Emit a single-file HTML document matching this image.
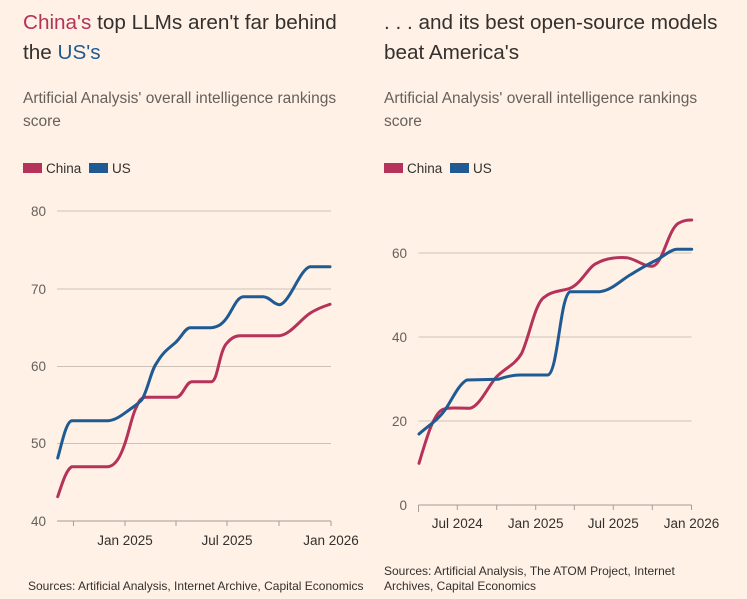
<!DOCTYPE html>
<html><head><meta charset="utf-8"><style>
html,body{margin:0;padding:0;background:#fff1e5;}
svg{display:block;font-family:"Liberation Sans",sans-serif;}
</style></head><body>
<svg width="747" height="599" viewBox="0 0 747 599" xmlns="http://www.w3.org/2000/svg">
<rect width="747" height="599" fill="#fff1e5"/>
<g font-size="20.7" fill="#33302e">
<text x="23" y="29"><tspan fill="#b5325a">China's</tspan> top LLMs aren't far behind</text>
<text x="23" y="59">the <tspan fill="#1f5a93">US's</tspan></text>
<text x="384" y="29">. . . and its best open-source models</text>
<text x="384" y="59">beat America's</text>
</g>
<g font-size="15.5" fill="#66605c">
<text x="23" y="103">Artificial Analysis' overall intelligence rankings</text>
<text x="23" y="126">score</text>
<text x="384" y="103">Artificial Analysis' overall intelligence rankings</text>
<text x="384" y="126">score</text>
</g>
<g font-size="13.5" fill="#33302e">
<rect x="23" y="163" width="19" height="10" fill="#b5325a"/><text x="46" y="173">China</text>
<rect x="89" y="163" width="19" height="10" fill="#1f5a93"/><text x="112" y="173">US</text>
<rect x="384" y="163" width="19" height="10" fill="#b5325a"/><text x="407" y="173">China</text>
<rect x="450" y="163" width="19" height="10" fill="#1f5a93"/><text x="473" y="173">US</text>
</g>
<g stroke="#ccc1b7" stroke-width="1">
<line x1="57" y1="211" x2="331" y2="211"/>
<line x1="57" y1="289" x2="331" y2="289"/>
<line x1="57" y1="366.5" x2="331" y2="366.5"/>
<line x1="57" y1="443.5" x2="331" y2="443.5"/>
</g>
<g stroke="#a59d95" stroke-width="1">
<line x1="57" y1="521" x2="331" y2="521"/>
<line x1="73.5" y1="521" x2="73.5" y2="526"/><line x1="125" y1="521" x2="125" y2="526"/><line x1="176" y1="521" x2="176" y2="526"/><line x1="227" y1="521" x2="227" y2="526"/><line x1="279" y1="521" x2="279" y2="526"/><line x1="331" y1="521" x2="331" y2="526"/>
</g>
<g font-size="13.5" fill="#66605c" text-anchor="end">
<text x="46" y="216">80</text><text x="46" y="294">70</text><text x="46" y="371">60</text><text x="46" y="448">50</text><text x="46" y="526">40</text>
</g>
<g font-size="13.5" fill="#33302e" text-anchor="middle">
<text x="125" y="545">Jan 2025</text><text x="227" y="545">Jul 2025</text><text x="331" y="545">Jan 2026</text>
</g>
<g fill="none" stroke-width="3" stroke-linejoin="round" stroke-linecap="round">
<path stroke="#b5325a" d="M57.7,496.7 C62,484 66,470 71.7,466.7 L108,466.7 C116,466 121,455 125,443.3 C130,428 133,412 136.7,406.7 C139,400 142,397.3 145.7,397.3 L176.7,397.3 C183,396 186,382 191.7,381.7 L211.7,381.7 C218,380 219,352 226.7,343.3 C231,338 235,335.7 240,335.7 L279,335.7 C290,335 300,320 310,313.3 C318,308 325,306 330,304.3"/>
<path stroke="#1f5a93" d="M57.7,458 C62,443 66,422 71.7,420.7 L108,420.7 C116,420 122,415 126.7,411.7 C133,407 138,404 141.7,400 C148,390 151,370 156.7,363 C163,352 168,349 175,343 C181,338 185,328 190,327.7 L211,327.7 C219,327 223,323 226.7,318 C233,309 237,297 243.3,296.7 L263.3,296.7 C270,297 274,305 280,304.7 C290,302 300,269 310,266.7 L330,266.7"/>
</g>
<g stroke="#ccc1b7" stroke-width="1">
<line x1="418.5" y1="253" x2="691.5" y2="253"/>
<line x1="418.5" y1="337" x2="691.5" y2="337"/>
<line x1="418.5" y1="421" x2="691.5" y2="421"/>
</g>
<g stroke="#a59d95" stroke-width="1">
<line x1="418.5" y1="505" x2="691.5" y2="505"/>
<line x1="418.5" y1="505" x2="418.5" y2="512"/><line x1="457.3" y1="505" x2="457.3" y2="510"/><line x1="496.7" y1="505" x2="496.7" y2="510"/><line x1="535.7" y1="505" x2="535.7" y2="510"/><line x1="574.3" y1="505" x2="574.3" y2="510"/><line x1="613.3" y1="505" x2="613.3" y2="510"/><line x1="652.3" y1="505" x2="652.3" y2="510"/><line x1="691.5" y1="505" x2="691.5" y2="510"/>
</g>
<g font-size="13.5" fill="#66605c" text-anchor="end">
<text x="407" y="258">60</text><text x="407" y="342">40</text><text x="407" y="426">20</text><text x="407" y="510">0</text>
</g>
<g font-size="13.5" fill="#33302e" text-anchor="middle">
<text x="457.3" y="528">Jul 2024</text><text x="535.7" y="528">Jan 2025</text><text x="613.3" y="528">Jul 2025</text><text x="691.5" y="528">Jan 2026</text>
</g>
<g fill="none" stroke-width="3" stroke-linejoin="round" stroke-linecap="round">
<path stroke="#b5325a" d="M419,463.3 C426,440 433,415 441.7,410 C446,407 460,408.3 470,408.3 C480,406 488,386 496.7,376.7 C505,368 515,365 521.7,353.3 C530,335 535,302 545,296.7 C552,291 562,291 570,288.3 C582,283 588,267 596.7,263.3 C606,258 618,257 626.7,257.7 C636,259 646,268 653.3,266 C663,263 668,230 678.3,223.3 C684,220 688,220 691.7,220"/>
<path stroke="#1f5a93" d="M419,434 C428,426 438,420 445,410 C452,400 458,385 466.7,380 L498.3,379.3 C505,377 512,375 520,375 L548,375 C558,372 560,296 570,291.7 L600,291.7 C612,290 620,281 630,275 C640,269 648,264 656.7,260 C664,256 670,250 676.7,249.3 L691.7,249.3"/>
</g>
<g font-size="12" fill="#33302e">
<text x="28" y="590">Sources: Artificial Analysis, Internet Archive, Capital Economics</text>
<text x="384" y="575">Sources: Artificial Analysis, The ATOM Project, Internet</text>
<text x="384" y="590">Archives, Capital Economics</text>
</g>
</svg>
</body></html>
